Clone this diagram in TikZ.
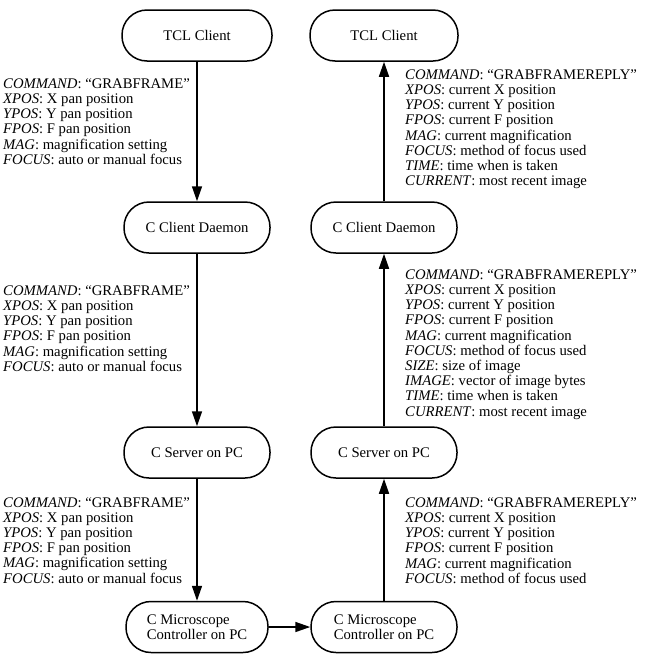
\documentclass[tikz,border=0pt]{standalone}
\usepackage{fontspec}
\setmainfont{Liberation Serif}
\usetikzlibrary{arrows.meta}
\begin{document}
\begin{tikzpicture}[x=1pt,y=-1pt,
  proc/.style={draw,line width=1.5pt,rounded corners=25pt,minimum height=51pt,
    minimum width=146pt,inner sep=0pt,align=left,
    font=\fontsize{14.7pt}{15.2pt}\selectfont},
  flow/.style={line width=1.5pt,-{Triangle[length=15pt,width=10pt]}},
  msg/.style={anchor=base west,inner sep=0pt,
    font=\fontsize{14.7pt}{15.2pt}\selectfont}]
\useasboundingbox (0,0) rectangle (669,662);
% left column
\node[proc,minimum width=150pt] (tclL) at (197,35.5) {TCL Client};
\node[proc] (dmnL) at (197,227.5) {C Client Daemon};
\node[proc] (srvL) at (197,452.5) {C Server on PC};
\node[proc,minimum width=142pt] (micL) at (197,627) {C Microscope\\Controller on PC};
% right column
\node[proc,minimum width=148pt] (tclR) at (384,35.5) {TCL Client};
\node[proc] (dmnR) at (384,227.5) {C Client Daemon};
\node[proc] (srvR) at (384,452.5) {C Server on PC};
\node[proc] (micR) at (384,627) {C Microscope\\Controller on PC};
% connectors
\draw[flow] (tclL) -- (dmnL);
\draw[flow] (dmnL) -- (srvL);
\draw[flow] (srvL) -- (micL);
\draw[flow] (micL) -- (micR);
\draw[flow] (micR) -- (srvR);
\draw[flow] (srvR) -- (dmnR);
\draw[flow] (dmnR) -- (tclR);
% messages
\node[msg] (m1) at (3,88.3) {\begin{tabular}[t]{@{}l@{}}
\textit{COMMAND}: “GRABFRAME”\\
\textit{XPOS}: X pan position\\
\textit{YPOS}: Y pan position\\
\textit{FPOS}: F pan position\\
\textit{MAG}: magnification setting\\
\textit{FOCUS}: auto or manual focus
\end{tabular}};
\node[msg] (m2) at (3,295.3) {\begin{tabular}[t]{@{}l@{}}
\textit{COMMAND}: “GRABFRAME”\\
\textit{XPOS}: X pan position\\
\textit{YPOS}: Y pan position\\
\textit{FPOS}: F pan position\\
\textit{MAG}: magnification setting\\
\textit{FOCUS}: auto or manual focus
\end{tabular}};
\node[msg] (m3) at (3,507) {\begin{tabular}[t]{@{}l@{}}
\textit{COMMAND}: “GRABFRAME”\\
\textit{XPOS}: X pan position\\
\textit{YPOS}: Y pan position\\
\textit{FPOS}: F pan position\\
\textit{MAG}: magnification setting\\
\textit{FOCUS}: auto or manual focus
\end{tabular}};
\node[msg] (r3) at (405,507.3) {\begin{tabular}[t]{@{}l@{}}
\textit{COMMAND}: “GRABFRAMEREPLY”\\
\textit{XPOS}: current X position\\
\textit{YPOS}: current Y position\\
\textit{FPOS}: current F position\\
\textit{MAG}: current magnification\\
\textit{FOCUS}: method of focus used
\end{tabular}};
\node[msg] (r2) at (405,279.3) {\begin{tabular}[t]{@{}l@{}}
\textit{COMMAND}: “GRABFRAMEREPLY”\\
\textit{XPOS}: current X position\\
\textit{YPOS}: current Y position\\
\textit{FPOS}: current F position\\
\textit{MAG}: current magnification\\
\textit{FOCUS}: method of focus used\\
\textit{SIZE}: size of image\\
\textit{IMAGE}: vector of image bytes\\
\textit{TIME}: time when is taken\\
\textit{CURRENT}: most recent image
\end{tabular}};
\node[msg] (r1) at (405,79.3) {\begin{tabular}[t]{@{}l@{}}
\textit{COMMAND}: “GRABFRAMEREPLY”\\
\textit{XPOS}: current X position\\
\textit{YPOS}: current Y position\\
\textit{FPOS}: current F position\\
\textit{MAG}: current magnification\\
\textit{FOCUS}: method of focus used\\
\textit{TIME}: time when is taken\\
\textit{CURRENT}: most recent image
\end{tabular}};
\end{tikzpicture}
\end{document}
